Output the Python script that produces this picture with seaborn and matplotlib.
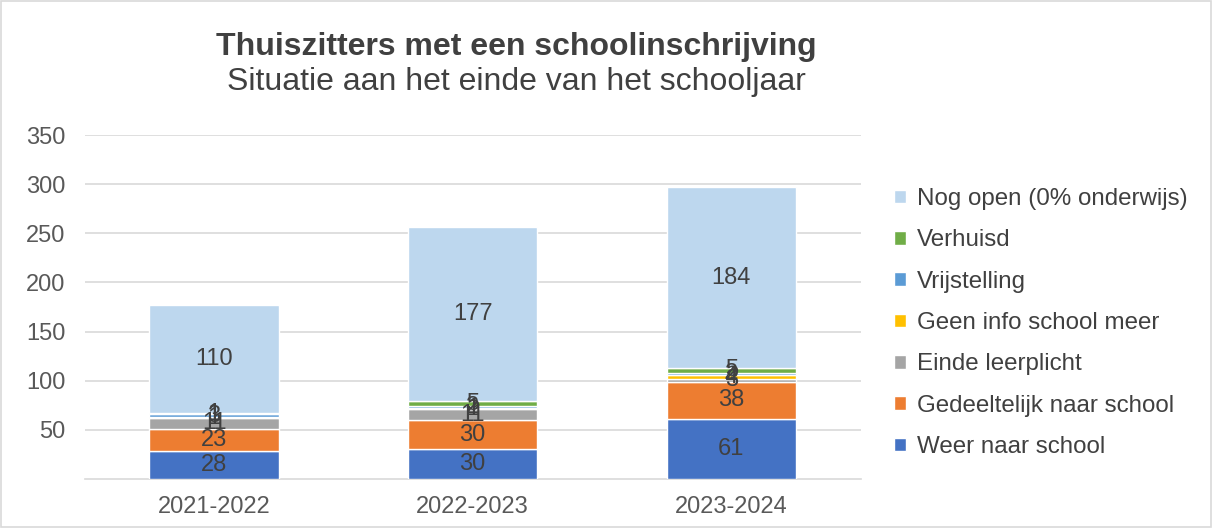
import numpy as np
import matplotlib
matplotlib.use("Agg")
import matplotlib.pyplot as plt
import seaborn as sns
from matplotlib.patches import Rectangle, Patch

# ------------------------------------------------------------
# Data
# ------------------------------------------------------------
years = ["2021-2022", "2022-2023", "2023-2024"]

categories = [
    "Weer naar school",
    "Gedeeltelijk naar school",
    "Einde leerplicht",
    "Geen info school meer",
    "Vrijstelling",
    "Verhuisd",
    "Nog open (0% onderwijs)",
]

weer_naar_school = [28, 30, 61]
gedeeltelijk = [23, 30, 38]
einde_leerplicht = [11, 11, 3]
geen_info = [1, 1, 4]
vrijstelling = [3, 2, 2]
verhuisd = [1, 5, 5]
nog_open = [110, 177, 184]

series = [weer_naar_school, gedeeltelijk, einde_leerplicht, geen_info,
          vrijstelling, verhuisd, nog_open]

colors = ["#4472C4", "#ED7D31", "#A5A5A5", "#FFC000",
          "#5B9BD5", "#70AD47", "#BDD7EE"]

# ------------------------------------------------------------
# Style
# ------------------------------------------------------------
sns.set_style("white")
plt.rcParams["font.family"] = ["Liberation Sans", "DejaVu Sans"]

fig = plt.figure(figsize=(12.12, 5.28), dpi=100)
ax = fig.add_axes([0.070, 0.093, 0.640, 0.651])

x = np.arange(len(years))
bottom = np.zeros(len(years))
for name, vals, col in zip(categories, series, colors):
    bars = ax.bar(x, vals, width=0.5, bottom=bottom, color=col, label=name,
                  zorder=3)
    ax.bar_label(bars, labels=[str(v) for v in vals], label_type="center",
                 fontsize=17, color="#404040", zorder=4)
    bottom += np.array(vals)

ax.set_xlim(-0.5, 2.5)
ax.set_ylim(0, 350)
ax.set_yticks(range(50, 351, 50))
ax.set_xticks(x)
ax.set_xticklabels(years)
ax.tick_params(axis="both", length=0, labelsize=17, labelcolor="#595959")
ax.tick_params(axis="y", pad=14)
ax.tick_params(axis="x", pad=12)
ax.yaxis.grid(True, color="#D9D9D9", linewidth=1.2, zorder=0)
for side in ["top", "right", "left"]:
    ax.spines[side].set_visible(False)
ax.spines["bottom"].set_color("#D9D9D9")
ax.spines["bottom"].set_linewidth(1.2)

# ------------------------------------------------------------
# Titles
# ------------------------------------------------------------
fig.text(0.426, 0.895, "Thuiszitters met een schoolinschrijving",
         ha="center", fontsize=23, fontweight="bold", color="#404040")
fig.text(0.426, 0.83, "Situatie aan het einde van het schooljaar",
         ha="center", fontsize=23, color="#404040")

# ------------------------------------------------------------
# Legend
# ------------------------------------------------------------
handles = [Patch(facecolor=c, label=n) for n, c in zip(categories, colors)]
fig.legend(handles=handles[::-1], loc="center left",
           bbox_to_anchor=(0.72, 0.388), frameon=False, fontsize=17.4,
           labelspacing=0.8, handlelength=0.5, handleheight=0.5,
           handletextpad=0.45, labelcolor="#404040")

# outer border
fig.patches.append(Rectangle((0.001, 0.002), 0.998, 0.996,
                             transform=fig.transFigure, fill=False,
                             edgecolor="#D9D9D9", linewidth=1.2))

fig.savefig("out.png", dpi=100)
